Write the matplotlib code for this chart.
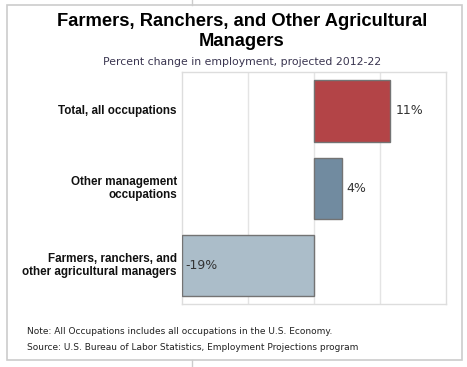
import matplotlib.pyplot as plt
from matplotlib.patches import Rectangle
from matplotlib.lines import Line2D

# data
categories = ["Total, all occupations",
              "Other management\noccupations",
              "Farmers, ranchers, and\nother agricultural managers"]
values = [11, 4, -19]
value_labels = ["11%", "4%", "-19%"]
bar_colors = ["#b34447", "#718ba0", "#abbdc9"]

W, H = 467, 367
fig = plt.figure(figsize=(W / 100, H / 100), dpi=100)

# outer frame and the page lines around it
fig.add_artist(Rectangle((7 / W, 1 - 360 / H), 455 / W, 355 / H, transform=fig.transFigure,
                         fill=False, edgecolor="#cccccc", linewidth=1.2))
fig.add_artist(Line2D([192 / W, 192 / W], [1, 1 - 5 / H], transform=fig.transFigure,
                      color="#cccccc", linewidth=1))
fig.add_artist(Line2D([192 / W, 192 / W], [1 - 360 / H, 0], transform=fig.transFigure,
                      color="#cccccc", linewidth=1))

# plot area
left, right, top, bottom = 181.7, 446, 72.3, 304.3
ax = fig.add_axes([left / W, 1 - bottom / H, (right - left) / W, (bottom - top) / H])

y = list(range(len(categories)))
ax.barh(y, values, height=0.79, color=bar_colors, edgecolor="#737373", linewidth=1, zorder=3)
ax.set_xlim(-19, 19)
ax.set_ylim(2.5, -0.5)
ax.set_xticks([-9.5, 0, 9.5])
ax.set_xticklabels([])
ax.set_yticks([])
ax.tick_params(length=0)
ax.grid(axis="x", color="#e4e4e4", linewidth=1, zorder=0)
for s in ax.spines.values():
    s.set_color("#dddddd")
    s.set_linewidth(1)

for i, (v, lab) in enumerate(zip(values, value_labels)):
    if v >= 0:
        ax.text(v + 0.7, i, lab, va="center", ha="left", fontsize=9,
                color="#333333", family="DejaVu Sans")
    else:
        ax.text(-18.4, i, lab, va="center", ha="left", fontsize=9,
                color="#333333", family="DejaVu Sans")

# category labels
for i, cat in enumerate(categories):
    ax.text(-19.7, i, cat, va="center", ha="right", fontsize=8.4, fontweight="bold",
            color="#111111", family="Liberation Sans", linespacing=1.15)

# titles
fig.text(242 / W, 1 - 22 / H, "Farmers, Ranchers, and Other Agricultural", ha="center",
         va="center", fontsize=13.2, fontweight="bold", family="Liberation Sans")
fig.text(242 / W, 1 - 42 / H, "Managers", ha="center", va="center", fontsize=13.2,
         fontweight="bold", family="Liberation Sans")
fig.text(242 / W, 1 - 62 / H, "Percent change in employment, projected 2012-22", ha="center",
         va="center", fontsize=7.8, color="#3a3550", family="DejaVu Sans")

# notes
fig.text(27 / W, 1 - 332 / H, "Note: All Occupations includes all occupations in the U.S. Economy.",
         ha="left", va="center", fontsize=6.5, color="#222222", family="DejaVu Sans")
fig.text(27 / W, 1 - 348 / H, "Source: U.S. Bureau of Labor Statistics, Employment Projections program",
         ha="left", va="center", fontsize=6.5, color="#222222", family="DejaVu Sans")

fig.savefig("out.png", dpi=100)
